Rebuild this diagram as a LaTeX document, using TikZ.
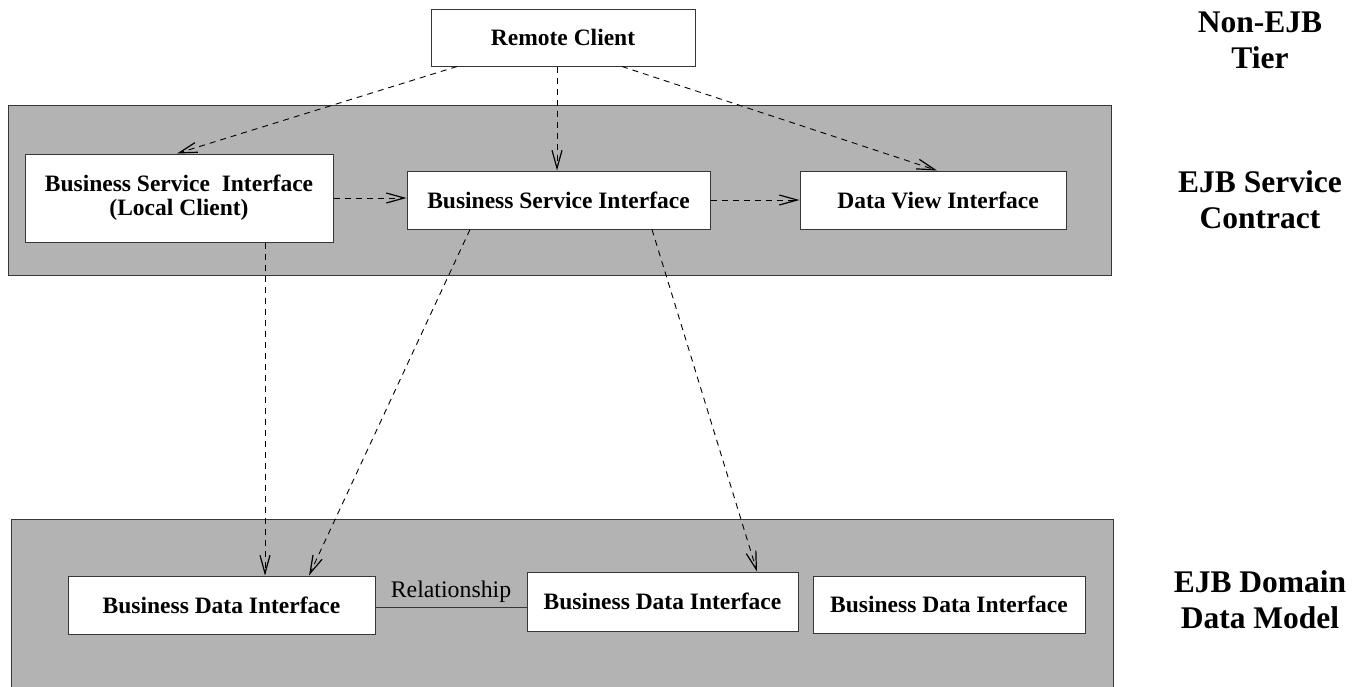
\documentclass[tikz,border=0pt]{standalone}
\usepackage{fontspec}
\setmainfont{Liberation Serif}
\usetikzlibrary{arrows.meta,calc}
\definecolor{panelgray}{RGB}{179,179,179}
\definecolor{edgegray}{RGB}{55,55,55}
\begin{document}
\begin{tikzpicture}[x=1pt,y=-1pt,
  panel/.style={draw=edgegray,fill=panelgray,line width=1pt},
  ibox/.style={draw=edgegray,fill=white,line width=1pt,inner sep=0pt,
    font=\fontsize{23.5}{24}\selectfont\bfseries,align=center},
  tier/.style={font=\fontsize{31.5}{36}\selectfont\bfseries,align=center,inner sep=0pt},
  dep/.style={draw=black,line width=0.9pt,dash pattern=on 6pt off 5pt,
    -{Straight Barb[length=18pt,width=10pt,line width=1.2pt]}},
  rel/.style={draw=edgegray,line width=1pt},
]
\useasboundingbox (0,0) rectangle (1361,686);
\fill[white] (0,0) rectangle (1361,686);

% panels
\path[panel] (8,105) rectangle (1111,275);
\path[panel] (11,519) rectangle (1113,700);

% nodes
\node[ibox,minimum width=264pt,minimum height=57pt] (rc) at (563,37.5) {Remote Client};
\node[ibox,minimum width=308pt,minimum height=88pt] (bsil) at (179,198) {Business Service\ \ Interface\\(Local Client)};
\node[ibox,minimum width=303pt,minimum height=58pt] (bsi) at (558.5,200) {Business Service Interface};
\node[ibox,minimum width=266pt,minimum height=58pt] (dvi) at (933,200) {\hspace{10pt}Data View Interface};
\node[ibox,minimum width=307pt,minimum height=58pt] (bdi1) at (221.5,605) {Business Data Interface};
\node[ibox,minimum width=271pt,minimum height=59pt] (bdi2) at (662.5,601.5) {Business Data Interface};
\node[ibox,minimum width=272pt,minimum height=57pt] (bdi3) at (949,604.5) {Business Data Interface};

% tier labels
\node[tier] (t1) at (1260,40) {Non-EJB\\Tier};
\node[tier] (t2) at (1260,199.5) {EJB Service\\Contract};
\node[tier] (t3) at (1260,600) {EJB Domain\\Data Model};

% connectors
\draw[dep] ([xshift=-106pt]rc.south) -- ([xshift=-2pt]bsil.north);
\draw[dep] ([xshift=-6pt]rc.south) -- ([xshift=-1.5pt]bsi.north);
\draw[dep] ([xshift=59pt]rc.south) -- ([xshift=4pt]dvi.north);
\draw[dep] (bsil.east) -- (bsil.east -| bsi.west);
\draw[dep] (bsi.east) -- (bsi.east -| dvi.west);
\draw[dep] ([xshift=86pt]bsil.south) -- ([xshift=43.5pt]bdi1.north);
\draw[dep] ([xshift=-88.5pt]bsi.south) -- ([xshift=87.5pt]bdi1.north);
\draw[dep] ([xshift=93.5pt]bsi.south) -- ([xshift=94.5pt]bdi2.north);

% relationship
\draw[rel] ([yshift=-2pt]bdi1.east) -- ([yshift=-2pt]bdi1.east -| bdi2.west)
  node[midway,above=1pt,font=\fontsize{23.8}{24}\selectfont] (rlab) {Relationship};
\end{tikzpicture}
\end{document}
